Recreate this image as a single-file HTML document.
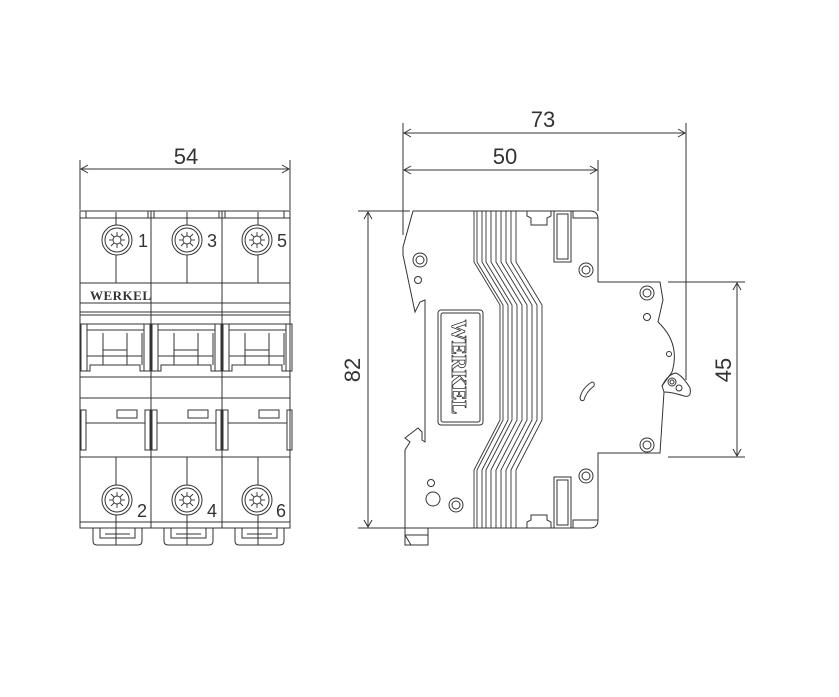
<!DOCTYPE html>
<html><head><meta charset="utf-8"><style>
html,body{margin:0;padding:0;background:#fff}
svg{display:block}
.t{font-family:"Liberation Sans",sans-serif;font-size:22px;fill:#333}
</style></head><body>
<svg width="839" height="697" viewBox="0 0 839 697" xmlns="http://www.w3.org/2000/svg">
<defs>
<g id="screw">
<circle r="15" fill="#fff" stroke="#333" stroke-width="1"/>
<circle r="12" fill="none" stroke="#333" stroke-width="1"/>
<g stroke="#333" stroke-width="0.9">
<line x1="-8" y1="0" x2="8" y2="0"/><line x1="0" y1="-8" x2="0" y2="8"/>
<line x1="-6" y1="-6" x2="6" y2="6"/><line x1="-6" y1="6" x2="6" y2="-6"/>
</g>
<circle r="4" fill="#fff" stroke="#333" stroke-width="0.9"/>
</g>
<g id="pole" fill="none" stroke="#333" stroke-width="1">
<!-- toggle area within pole 0..71 -->
<rect x="1" y="324" width="6" height="47"/>
<rect x="64" y="324" width="6" height="47"/>
<line x1="7" y1="330" x2="64" y2="330"/>
<line x1="7" y1="324" x2="64" y2="324"/>
<line x1="7" y1="333" x2="7" y2="365"/>
<line x1="23" y1="333" x2="23" y2="365"/>
<line x1="47" y1="333" x2="47" y2="365"/>
<line x1="62" y1="333" x2="62" y2="365"/>
<line x1="23" y1="350" x2="47" y2="350"/>
<line x1="7" y1="356" x2="62" y2="356"/>
<polyline points="1,371 10,371 10,365 60,365 60,371 70,371"/>
<rect x="1" y="410" width="5" height="40"/>
<rect x="65" y="410" width="5" height="40"/>
<rect x="37" y="410" width="20" height="8"/>
<line x1="6" y1="423" x2="65" y2="423"/>
<!-- clip -->
<path d="M13,528 V541 Q13,545 17,545 H58 Q62,545 62,541 V528"/>
<path d="M20,528 V538 H55 V528 M25,534 H50"/>
<line x1="36" y1="212" x2="36" y2="283"/>
<line x1="36" y1="457" x2="36" y2="545"/>
</g>
</defs>

<!-- dimension 54 -->
<g stroke="#333" stroke-width="1" fill="none">
<line x1="80" y1="160" x2="80" y2="210"/><line x1="290" y1="160" x2="290" y2="210"/>
<line x1="81" y1="169" x2="289" y2="169"/>
<polyline points="88,165 81,169 88,173"/><polyline points="282,165 289,169 282,173"/>
</g>
<text class="t" x="186" y="164" text-anchor="middle">54</text>

<!-- front body -->
<g stroke="#333" stroke-width="1" fill="none">
<rect x="80" y="211" width="210" height="317"/>
<line x1="80" y1="218" x2="290" y2="218"/>
<line x1="86" y1="211" x2="86" y2="218"/><line x1="284" y1="211" x2="284" y2="218"/>
<line x1="151" y1="211" x2="151" y2="528"/><line x1="222" y1="211" x2="222" y2="528"/>
<line x1="148" y1="211" x2="148" y2="218"/><line x1="154" y1="211" x2="154" y2="218"/>
<line x1="219" y1="211" x2="219" y2="218"/><line x1="225" y1="211" x2="225" y2="218"/>
<line x1="80" y1="283" x2="290" y2="283"/>
<line x1="80" y1="303" x2="290" y2="303"/>
<line x1="80" y1="312" x2="290" y2="312"/>
<line x1="80" y1="315" x2="290" y2="315"/>
<line x1="80" y1="377" x2="290" y2="377"/>
<line x1="80" y1="398" x2="290" y2="398"/>
<line x1="80" y1="457" x2="290" y2="457"/>
<line x1="80" y1="522" x2="290" y2="522"/>
</g>
<use href="#pole" x="80"/><use href="#pole" x="151"/><use href="#pole" x="222"/>
<use href="#screw" x="117" y="240"/><use href="#screw" x="187" y="240"/><use href="#screw" x="257" y="240"/>
<use href="#screw" x="117" y="500"/><use href="#screw" x="187" y="500"/><use href="#screw" x="257" y="500"/>
<g class="t" style="font-size:18px">
<text x="138" y="247">1</text><text x="207" y="247">3</text><text x="277" y="247">5</text>
<text x="137" y="517">2</text><text x="207" y="517">4</text><text x="276" y="517">6</text>
</g>
<text x="90" y="300" style="font-family:'Liberation Serif',serif;font-weight:bold;font-size:13px;fill:#333;letter-spacing:0.5px">WERKEL</text>

<!-- side dimensions -->
<g stroke="#333" stroke-width="1" fill="none">
<line x1="403" y1="123" x2="403" y2="235"/>
<line x1="686" y1="123" x2="686" y2="380"/>
<line x1="598" y1="160" x2="598" y2="211"/>
<line x1="404" y1="133" x2="685" y2="133"/>
<polyline points="411,129 404,133 411,137"/><polyline points="678,129 685,133 678,137"/>
<line x1="404" y1="170" x2="597" y2="170"/>
<polyline points="411,166 404,170 411,174"/><polyline points="590,166 597,170 590,174"/>
<line x1="358" y1="211" x2="410" y2="211"/><line x1="358" y1="528" x2="405" y2="528"/>
<line x1="368" y1="212" x2="368" y2="527"/>
<polyline points="364,219 368,212 372,219"/><polyline points="364,520 368,527 372,520"/>
<line x1="668" y1="282" x2="745" y2="282"/><line x1="668" y1="457" x2="745" y2="457"/>
<line x1="737" y1="283" x2="737" y2="456"/>
<polyline points="733,290 737,283 741,290"/><polyline points="733,449 737,456 741,449"/>
</g>
<text class="t" x="543" y="127" text-anchor="middle">73</text>
<text class="t" x="505" y="164" text-anchor="middle">50</text>
<text class="t" transform="translate(360,370) rotate(-90)" text-anchor="middle">82</text>
<text class="t" transform="translate(731,370) rotate(-90)" text-anchor="middle">45</text>

<!-- side body -->
<g stroke="#333" stroke-width="1" fill="none">
<path d="M413,211 H590 Q598,211 598,219 V282 H660 L663,300 L658,322 L661,325 Q680,345 672,372 L662,386 L664,392 L660,453 H598 V520 Q598,528 590,528 H405 V450 L410,442 L405,438 L418,428 L422,432 V440 L425,442 V300 L420,302 L415,312 L403,255 V247 Z"/>
<line x1="426" y1="211" x2="430" y2="211" stroke-dasharray="3 3"/>
<path d="M405,528 V545 H428 V528 M405,535 L411,545 M405,535 H428"/>
<rect x="438" y="310" width="45" height="115" rx="3"/>
<rect x="441" y="313" width="39" height="109" rx="2"/>
<!-- slots top -->
<path d="M527,211 V216 L531,218 V225 H547 V218 L551,216 V211"/>
<rect x="554" y="211" width="17" height="51"/><rect x="557" y="214" width="11" height="45"/>
<path d="M573,211 V218 H598"/>
<!-- slots bottom -->
<path d="M527,528 V522 L531,520 V515 H547 V520 L551,522 V528"/>
<rect x="554" y="477" width="17" height="51"/><rect x="557" y="480" width="11" height="45"/>
<path d="M573,528 V520 H598"/>
<!-- holes -->
<circle cx="420" cy="260" r="7"/><circle cx="420" cy="260" r="4"/>
<circle cx="418" cy="280" r="3.5"/>
<circle cx="586" cy="270" r="7"/><circle cx="586" cy="270" r="4"/>
<circle cx="647" cy="293" r="7"/><circle cx="647" cy="293" r="4"/>
<circle cx="647" cy="317" r="3.5"/>
<circle cx="669" cy="354" r="2.5"/>
<circle cx="647" cy="445" r="7"/><circle cx="647" cy="445" r="4"/>
<circle cx="586" cy="476" r="7"/><circle cx="586" cy="476" r="4"/>
<circle cx="431" cy="483" r="3.5"/><circle cx="433" cy="499" r="7"/>
<circle cx="456" cy="505" r="7"/><circle cx="456" cy="505" r="4"/>
<path d="M580,398 Q582,388 592,382 Q595,382 594,386 Q586,392 584,400 Q581,402 580,398 Z"/>
<!-- lever -->
<path d="M662,386 Q668,374 676,373 Q683,376 690,388 Q692,398 684,396 Q672,392 664,392"/>
<circle cx="672" cy="382" r="4"/><circle cx="672" cy="382" r="2"/><circle cx="679" cy="388" r="3"/>
</g>
<!-- wavy lines -->
<g stroke="#333" stroke-width="0.9" fill="none">
<path d="M474,211 V262 L500,305 V420 L474,470 V528"/>
<path d="M477,211 V262 L503,305 V420 L477,470 V528"/>
<path d="M482,211 V262 L508,305 V420 L482,470 V528"/>
<path d="M486,211 V262 L512,305 V420 L486,470 V528"/>
<path d="M491,211 V262 L517,305 V420 L491,470 V528"/>
<path d="M496,211 V262 L522,305 V420 L496,470 V528"/>
<path d="M501,211 V262 L527,305 V420 L501,470 V528"/>
<path d="M506,211 V262 L532,305 V420 L506,470 V528"/>
<path d="M511,211 V262 L537,305 V420 L511,470 V528"/>
<path d="M516,211 V262 L542,305 V420 L516,470 V528"/>
</g>
<text transform="translate(452,367) rotate(90)" text-anchor="middle" style="font-family:'Liberation Serif',serif;font-weight:bold;font-size:21px;fill:#fff;stroke:#333;stroke-width:0.8">WERKEL</text>
</svg>
</body></html>
